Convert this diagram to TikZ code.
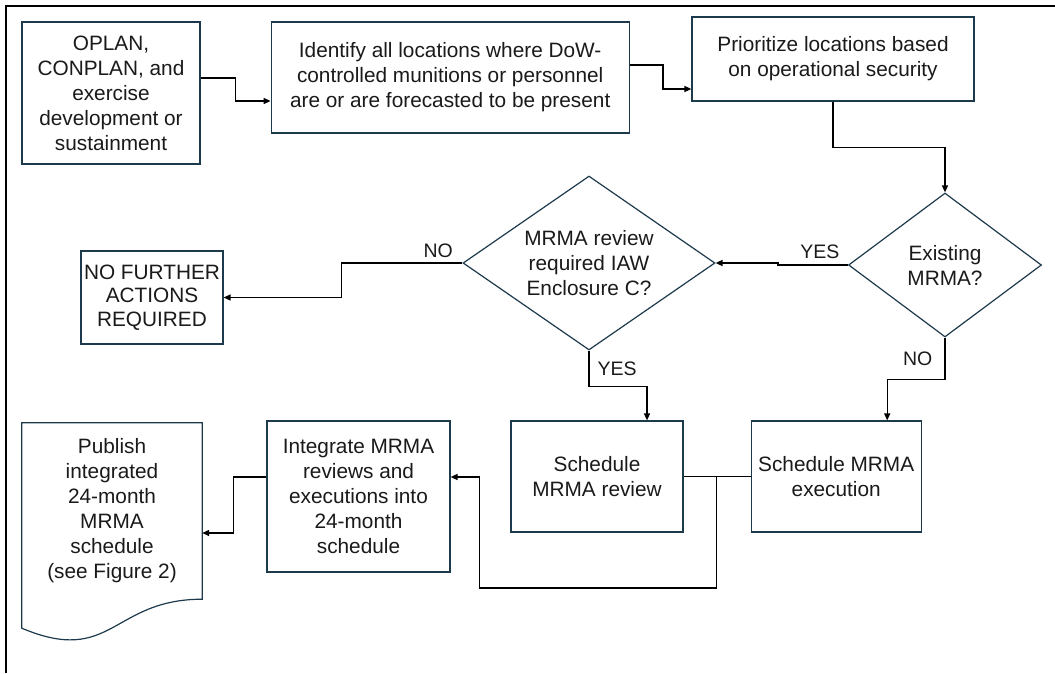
\documentclass[tikz,border=0pt]{standalone}
\usepackage{fontspec}
\setmainfont{Liberation Sans}
\usepackage{xcolor}
\definecolor{boxline}{HTML}{1D3A4C}
\definecolor{ink}{HTML}{1A1A1A}
\usetikzlibrary{shapes.geometric, arrows.meta, positioning, calc}

\begin{document}
\begin{tikzpicture}[
    x=1pt, y=-1pt,
    block/.style={rectangle, draw=boxline, line width=1.2pt, fill=white, text=ink, align=center, inner sep=0pt, font=\fontsize{20.8}{25}\selectfont},
    decision/.style={diamond, draw=boxline, line width=1.2pt, fill=white, text=ink, align=center, inner sep=0pt, font=\fontsize{20.8}{25}\selectfont},
    doctext/.style={rectangle, text=ink, align=center, inner sep=0pt, font=\fontsize{20.8}{25}\selectfont},
    lbl/.style={text=ink, font=\fontsize{19.5}{22}\selectfont, inner sep=2pt},
    arrow/.style={-{Triangle[length=7pt,width=6pt]}, line width=1.4pt, color=black}
]
    \useasboundingbox (0,0) rectangle (1055,673);
    \draw[line width=2pt, black] (6,673) -- (6,6) -- (1055,6);

    \node[block, minimum width=178pt, minimum height=142pt] (oplan) at (111,93) {OPLAN,\\ CONPLAN, and\\ exercise\\ development or\\ sustainment};
    \node[block, minimum width=358pt, minimum height=111pt, right=70pt of oplan.north east, anchor=north west] (ident) {Identify all locations where DoW-\\ controlled munitions or personnel\\ are or are forecasted to be present};
    \node[block, minimum width=282pt, minimum height=84pt] (prior) at (833,59) {Prioritize locations based\\ on operational security};
    \node[decision, aspect=1.34, minimum width=193pt, minimum height=144pt] (exist) at (945,265) {Existing\\ MRMA?};
    \node[decision, aspect=1.45, minimum width=252pt, minimum height=174pt] (rev) at (589,263) {MRMA review\\ required IAW\\ Enclosure C?};
    \node[block, minimum width=142pt, minimum height=93pt, font=\fontsize{20.8}{23.5}\selectfont] (nof) at (152,297.5) {NO FURTHER\\ ACTIONS\\ REQUIRED};
    \node[block, minimum width=172pt, minimum height=111pt] (srev) at (597,476.5) {Schedule\\ MRMA review};
    \node[block, minimum width=170pt, minimum height=111pt, right=67pt of srev] (sexec) {Schedule MRMA\\ execution};
    \node[block, minimum width=183pt, minimum height=151pt] (integ) at (358.5,496.5) {Integrate MRMA\\ reviews and\\ executions into\\ 24-month\\ schedule};
    \node[doctext, minimum width=180pt, minimum height=176pt] (pub) at (112,511) {Publish\\ integrated\\ 24-month\\ MRMA\\ schedule\\ (see Figure 2)};
    \draw[boxline, line width=1.2pt] (pub.north west) -- (pub.north east) -- (pub.south east) .. controls (pub.south) and ($(pub.south)+(0,67)$) .. ($(pub.south west)+(0,29)$) -- cycle;

    \draw[arrow] ([yshift=15pt]oplan.east) -- ++(35,0) |- ([yshift=-23.5pt]ident.west);
    \draw[arrow] ([yshift=12.5pt]ident.east) -- ++(33,0) |- ([yshift=-30pt]prior.west);
    \draw[arrow] (prior.south) -- ++(0,46) -| (exist.north);
    \draw[arrow] (exist.west) -- node[lbl, above=4pt, pos=0.4]{YES} ++(-70,0) |- (rev.east);
    \draw[arrow] (exist.south) -- node[lbl, left=10pt]{NO} ++(0,42) -| ([xshift=51pt]sexec.north);
    \draw[arrow] (rev.west) -- node[lbl, above=3pt, pos=0.2]{NO} ++(-121,0) |- (nof.east);
    \draw[arrow] (rev.south) -- node[lbl, right=6pt]{YES} ++(0,36) -| ([xshift=50pt]srev.north);
    \draw (srev.east) -- (sexec.west);
    \coordinate (j) at ([xshift=-34pt]sexec.west);
    \draw[arrow] (j) -- ++(0,111.5) -| ([xshift=29pt, yshift=19.5pt]integ.east) -- ([yshift=19.5pt]integ.east);
    \draw[arrow] ([yshift=19.5pt]integ.west) -- ++(-33,0) |- ([yshift=-22pt]pub.east);
\end{tikzpicture}
\end{document}
